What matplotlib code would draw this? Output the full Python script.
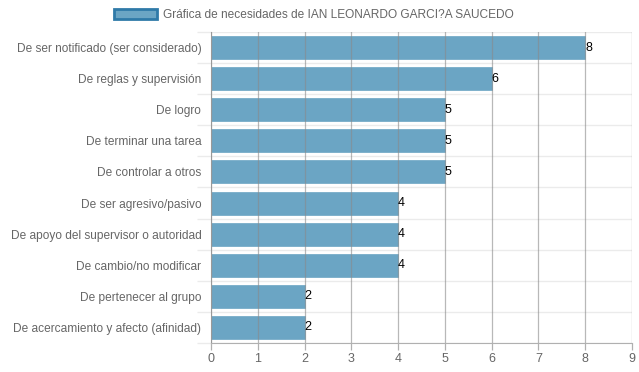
import matplotlib
matplotlib.use("Agg")
import matplotlib.pyplot as plt
import numpy as np

categories = [
    "De ser notificado (ser considerado)",
    "De reglas y supervisión",
    "De logro",
    "De terminar una tarea",
    "De controlar a otros",
    "De ser agresivo/pasivo",
    "De apoyo del supervisor o autoridad",
    "De cambio/no modificar",
    "De pertenecer al grupo",
    "De acercamiento y afecto (afinidad)",
]
values = [8, 6, 5, 5, 5, 4, 4, 4, 2, 2]
series_label = "Gráfica de necesidades de IAN LEONARDO GARCI?A SAUCEDO"
xticks = list(range(0, 10))

plt.rcParams['font.family'] = ['Liberation Sans', 'DejaVu Sans']

fig = plt.figure(figsize=(6.39, 3.72), dpi=100)
ax = fig.add_axes([211/639, 1-343/372, (632-211)/639, (343-32)/372])

n = len(categories)
y = np.arange(n)
bars = ax.barh(y, values, height=0.74, color='#6ba5c4', edgecolor='#6ba5c4', linewidth=0.5,
               label=series_label, zorder=2)
ax.set_ylim(n-0.5, -0.5)
ax.set_xlim(0, 9)
ax.set_xticks(xticks)
ax.set_yticks(y)
ax.set_yticklabels(categories)

# grid lines
for xv in xticks:
    ax.axvline(xv, color='#8a8a8a', alpha=0.6, linewidth=0.9, zorder=3)
ax.set_yticks(np.arange(-0.5, n, 1.0), minor=True)
ax.grid(False)
ax.yaxis.grid(True, which='minor', color='#ebebeb', linewidth=1.0, zorder=0)

for s in ['top', 'right']:
    ax.spines[s].set_visible(False)
ax.spines['left'].set_color('#b0b0b0')
ax.spines['bottom'].set_color('#b0b0b0')
ax.tick_params(axis='x', colors='#b0b0b0', labelcolor='#666666', labelsize=9, length=5, width=0.9, pad=2)
ax.tick_params(axis='y', which='major', length=0, labelcolor='#666666', labelsize=8.6, pad=7)
ax.tick_params(axis='y', which='minor', length=10, color='#ebebeb', width=1.0)

for yi, v in zip(y, values):
    ax.text(v, yi, str(v), ha='left', va='center', fontsize=9, color='black', zorder=4)

leg = fig.legend(handles=[bars], labels=[series_label], loc='center', bbox_to_anchor=(0.491, 1-15/372),
                 frameon=False, fontsize=8.6, handlelength=3.6, handleheight=0.9, handletextpad=0.5,
                 labelcolor='#666666')
for p in leg.get_patches():
    p.set_edgecolor('#2f7aa8')
    p.set_linewidth(2)

fig.savefig("out.png", dpi=100)
